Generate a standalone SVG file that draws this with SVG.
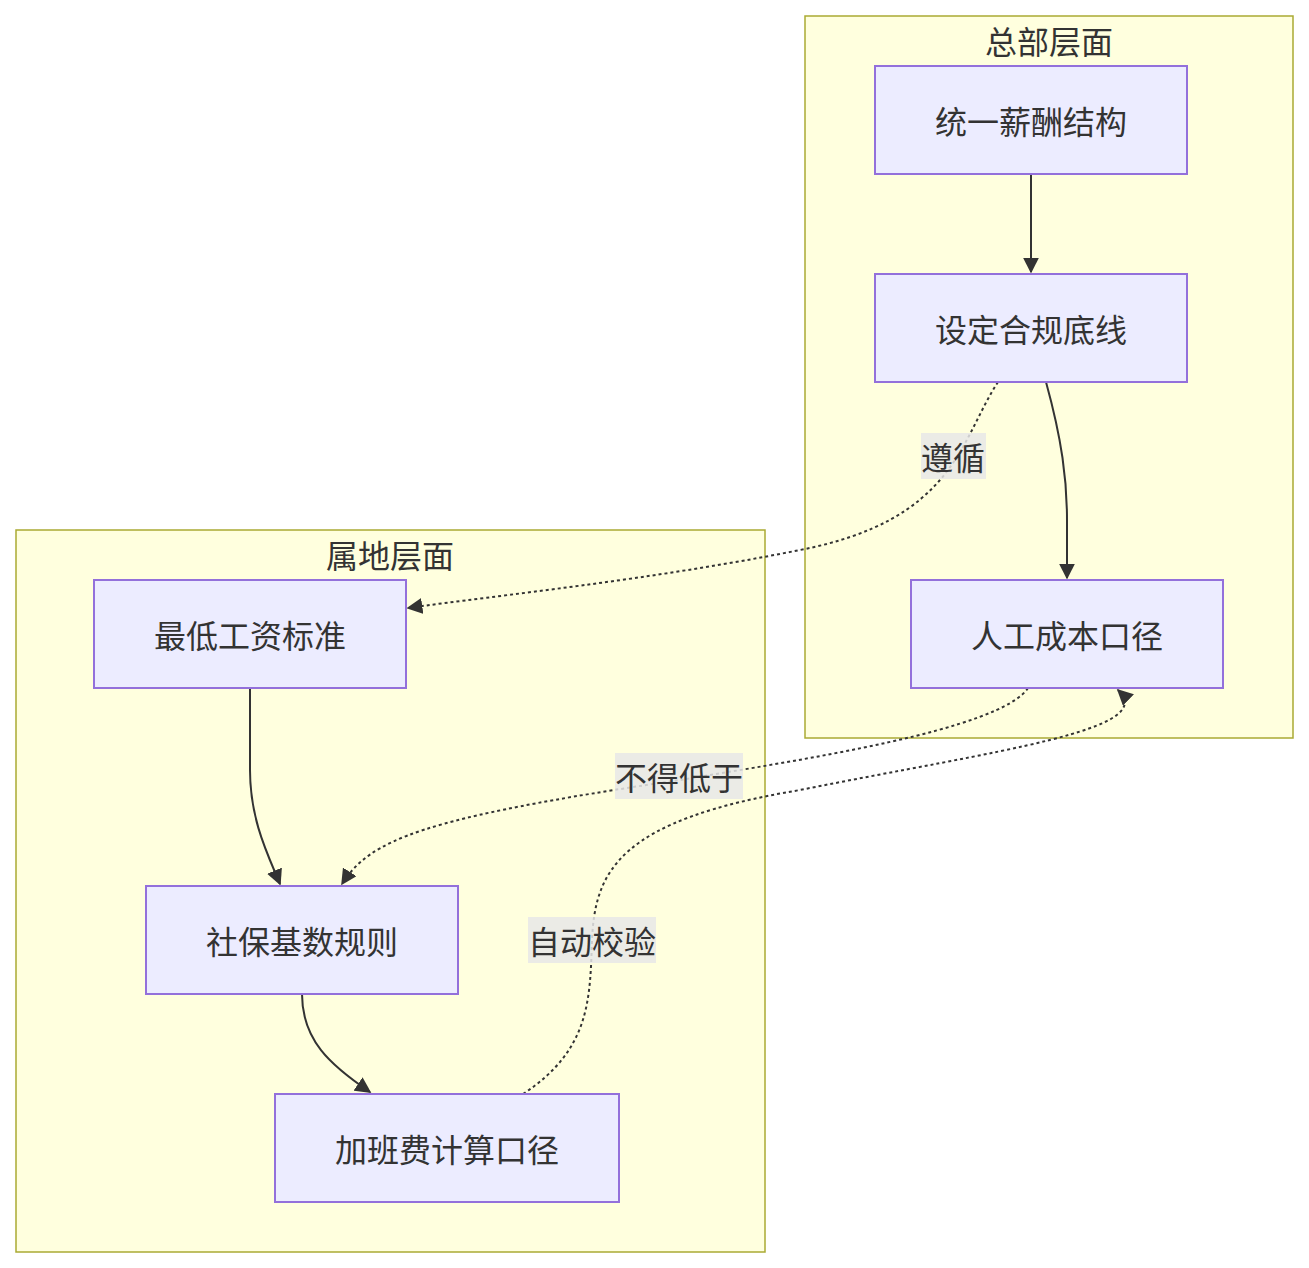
<svg xmlns="http://www.w3.org/2000/svg" width="1309" height="1268" viewBox="0 0 1309 1268">
<style>
.cl{fill:#ffffde;stroke:#aaaa33;stroke-width:1.5}
.nd{fill:#ececff;stroke:#9370db;stroke-width:2}
text{font-family:"Noto Sans CJK SC","Liberation Sans",sans-serif;font-size:32px;fill:#333;text-anchor:middle;dominant-baseline:central}
.e{fill:none;stroke:#333;stroke-width:2}
.d{stroke-dasharray:3,3}
.lb{fill:#e8e8e8;opacity:0.85}
</style>
<defs><marker id="a" viewBox="0 0 10 10" refX="9" refY="5" markerWidth="8" markerHeight="8" orient="auto-start-reverse"><path d="M0,0L10,5L0,10z" fill="#333"/></marker></defs>
<g id="c1"><rect class="cl" x="805" y="16" width="488" height="722"/><text x="1049" y="40">总部层面</text></g>
<g id="c2"><rect class="cl" x="16" y="530" width="749" height="722"/><text x="390" y="554">属地层面</text></g>
<g id="edges">
<path class="e" d="M1031,174 L1031,272" marker-end="url(#a)"/>
<path class="e" d="M1046,382 C1062,440 1067,480 1067,520 L1067,578" marker-end="url(#a)"/>
<path class="e d" d="M998,382 C960,440 955,520 800,550 C650,580 500,595 408,608" marker-end="url(#a)"/>
<path class="e" d="M250,688 L250,770 C250,820 268,855 280,884" marker-end="url(#a)"/>
<path class="e" d="M302,994 C302,1040 330,1065 370,1092" marker-end="url(#a)"/>
<path class="e d" d="M1028,688 C1000,730 800,760 680,780 C420,818 370,840 342,884" marker-end="url(#a)"/>
<path class="e d" d="M523,1094 C590,1050 590,1000 592,940 C595,870 620,820 800,790 C1000,750 1160,730 1118,690" marker-end="url(#a)"/>
<rect class="lb" x="921" y="433" width="65" height="46"/><text x="953" y="456">遵循</text>
<rect class="lb" x="615" y="753" width="128" height="46"/><text x="679" y="776">不得低于</text>
<rect class="lb" x="528" y="917" width="128" height="46"/><text x="592" y="940">自动校验</text>
</g>
<g id="n1"><rect class="nd" x="875" y="66" width="312" height="108"/><text x="1031" y="120">统一薪酬结构</text></g>
<g id="n2"><rect class="nd" x="875" y="274" width="312" height="108"/><text x="1031" y="328">设定合规底线</text></g>
<g id="n3"><rect class="nd" x="911" y="580" width="312" height="108"/><text x="1067" y="634">人工成本口径</text></g>
<g id="n4"><rect class="nd" x="94" y="580" width="312" height="108"/><text x="250" y="634">最低工资标准</text></g>
<g id="n5"><rect class="nd" x="146" y="886" width="312" height="108"/><text x="302" y="940">社保基数规则</text></g>
<g id="n6"><rect class="nd" x="275" y="1094" width="344" height="108"/><text x="447" y="1148">加班费计算口径</text></g>
</svg>
